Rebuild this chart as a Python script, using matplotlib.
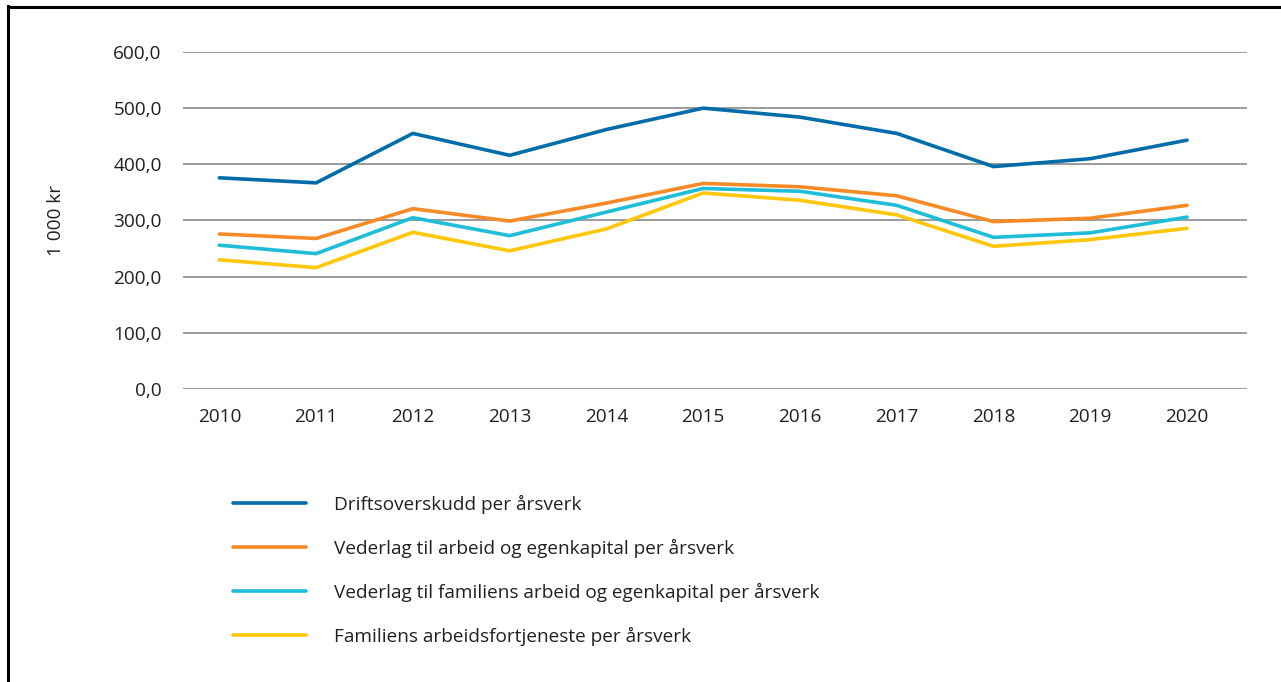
import numpy as np
import matplotlib
matplotlib.use("Agg")
import matplotlib.pyplot as plt

plt.rcParams["font.family"] = ["Open Sans", "DejaVu Sans"]

years = [2010, 2011, 2012, 2013, 2014, 2015, 2016, 2017, 2018, 2019, 2020]
driftsoverskudd = [376, 367, 455, 416, 462, 500, 484, 455, 396, 410, 443]
vederlag = [276, 268, 321, 299, 331, 366, 360, 344, 298, 304, 327]
vederlag_familie = [256, 241, 305, 273, 315, 357, 352, 327, 270, 278, 306]
arbeidsfortjeneste = [230, 216, 279, 246, 285, 349, 336, 310, 254, 266, 286]

labels = ["Driftsoverskudd per årsverk",
          "Vederlag til arbeid og egenkapital per årsverk",
          "Vederlag til familiens arbeid og egenkapital per årsverk",
          "Familiens arbeidsfortjeneste per årsverk"]
colors = ["#006DAA", "#F58A26", "#1EBDD8", "#FFC708"]
yticks = [0, 100, 200, 300, 400, 500, 600]

fs = 13.7
fig = plt.figure(figsize=(12.81, 6.82), dpi=100)
ax = fig.add_axes([0.1425, 0.4296, 0.831, 0.4942])

series = [driftsoverskudd, vederlag, vederlag_familie, arbeidsfortjeneste]
for vals, lab, c in zip(series, labels, colors):
    ax.plot(years, vals, color=c, linewidth=2.6, label=lab,
            solid_capstyle="round", solid_joinstyle="miter")

ax.set_ylim(0, 600)
ax.set_xlim(2010 - 0.38, 2020 + 0.62)
ax.set_yticks(yticks)
ax.set_yticklabels([f"{v:.1f}".replace(".", ",") for v in yticks])
ax.set_xticks(years)
ax.tick_params(length=0, labelsize=fs, colors="#231F20")
ax.tick_params(axis="y", pad=15)
ax.tick_params(axis="x", pad=14)
ax.grid(axis="y", color="#8A8A8A", linewidth=1.2)
ax.set_axisbelow(True)
for s in ax.spines.values():
    s.set_visible(False)

fig.text(56 / 1281, 1 - 220 / 682, "1 000 kr", rotation=90, ha="center",
         va="center", fontsize=fs, color="#231F20")

fig.legend(loc="upper left", bbox_to_anchor=(215.5 / 1281, 1 - 477.5 / 682),
           frameon=False, fontsize=fs, handlelength=3.84, handletextpad=1.47,
           labelspacing=1.31, labelcolor="#231F20")

# ramme oppe og til venstre
fig.add_artist(plt.Line2D([0.006, 1], [1 - 7 / 682, 1 - 7 / 682],
                          color="black", linewidth=2.2, transform=fig.transFigure))
fig.add_artist(plt.Line2D([8 / 1281, 8 / 1281], [0, 1 - 6 / 682],
                          color="black", linewidth=2.2, transform=fig.transFigure))

fig.savefig("out.png", dpi=100)
